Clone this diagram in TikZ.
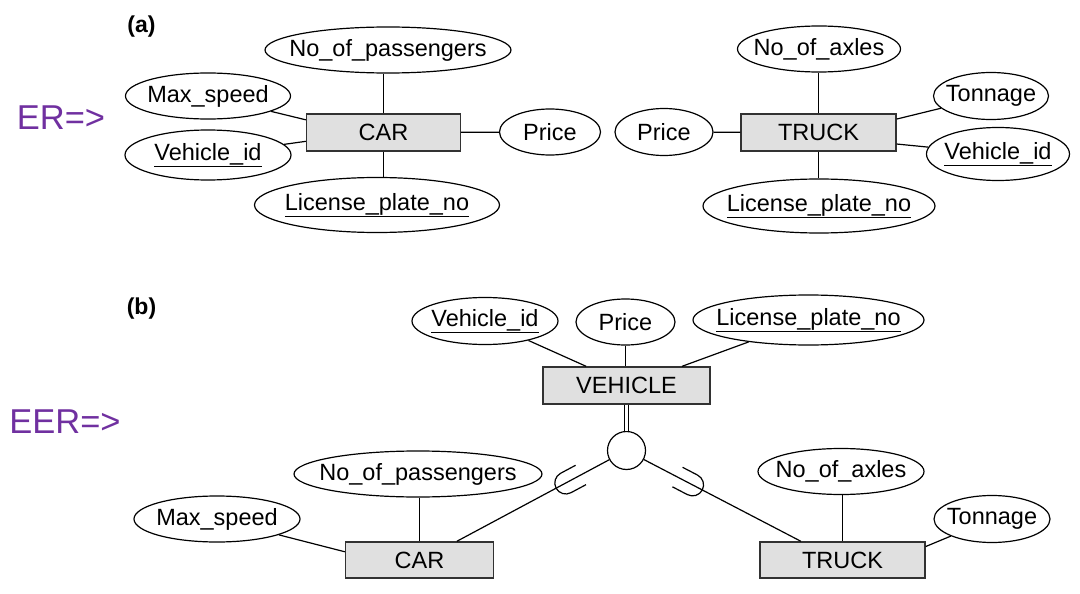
\documentclass[tikz,border=0pt]{standalone}
\usepackage{fontspec}
\setmainfont{Liberation Sans}
\usetikzlibrary{shapes.geometric,calc,decorations.markings}
\definecolor{erpurple}{RGB}{112,48,160}
\definecolor{entfill}{RGB}{224,224,224}
\definecolor{entdraw}{RGB}{50,50,50}
\newsavebox\ulbox
\newcommand\ulkey[1]{\sbox\ulbox{#1}\leavevmode\rlap{\usebox\ulbox}\rule[-6.5pt]{\wd\ulbox}{1.2pt}}
\newcommand\attrfont{\fontsize{23.5}{28}\selectfont}
\tikzset{
  conn/.style={line width=1.2pt},
  attr/.style={ellipse, draw, line width=1.2pt, inner xsep=-40pt, inner ysep=-12pt, font=\attrfont},
  ent/.style={rectangle, draw=entdraw, fill=entfill, line width=1.4pt, inner sep=0pt, font=\attrfont},
  partlbl/.style={font=\bfseries\fontsize{23}{27}\selectfont, inner sep=0pt},
  arrowlbl/.style={font=\fontsize{34.5}{40}\selectfont, text=erpurple, inner sep=0pt},
  subset/.style={postaction={decorate}, decoration={markings, mark=at position #1 with {\draw[line width=1.2pt] (-17pt,11pt) -- (0pt,11pt) arc[start angle=90,end angle=-90,radius=11pt] -- (-17pt,-11pt);}}}
}
\begin{document}
\begin{tikzpicture}[x=1pt,y=-1pt]
\useasboundingbox (0,0) rectangle (1080,594);
% labels
\node[partlbl] (lblA) at (141.5,26.5) {(a)};
\node[partlbl] (lblB) at (141.5,308.5) {(b)};
\node[arrowlbl] (er) at (61,117.5) {ER=>};
\node[arrowlbl] (eer) at (65,421.5) {EER=>};
% (a) CAR
\node[attr, minimum width=246pt, minimum height=46pt] (npA) at (388,50) {No\_of\_passengers};
\node[attr, minimum width=165pt, minimum height=46pt] (msA) at (208,96) {Max\_speed};
\node[attr, minimum width=166pt, minimum height=50pt] (viA) at (208,155) {\ulkey{Vehicle\_id}};
\node[ent, minimum width=154pt, minimum height=37pt] (carA) at (383.5,132.5) {CAR};
\node[attr, minimum width=245pt, minimum height=55pt] (lpA) at (377,205) {\ulkey{License\_plate\_no}};
\node[attr, minimum width=101pt, minimum height=46pt] (prA) at (550,132) {Price};
% (a) TRUCK
\node[attr, minimum width=98pt, minimum height=47pt] (prT) at (664,132) {Price};
\node[ent, minimum width=155pt, minimum height=37pt] (truckA) at (818.5,132.5) {TRUCK};
\node[attr, minimum width=163pt, minimum height=46pt] (naA) at (819,49) {No\_of\_axles};
\node[attr, minimum width=115pt, minimum height=47pt] (tnA) at (991,96) {Tonnage};
\node[attr, minimum width=143pt, minimum height=53pt] (viT) at (998,154) {\ulkey{Vehicle\_id}};
\node[attr, minimum width=232pt, minimum height=54pt] (lpT) at (819,206) {\ulkey{License\_plate\_no}};
% (a) connectors
\draw[conn] (carA.north) -- (carA.north |- npA.south);
\draw[conn] (carA.south) -- (carA.south |- lpA.north);
\draw[conn] (msA) -- ($(carA.north west)!0.17!(carA.south west)$);
\draw[conn] (viA) -- ($(carA.north west)!0.73!(carA.south west)$);
\draw[conn] (carA) -- (prA);
\draw[conn] (prT) -- (truckA);
\draw[conn] (truckA.north) -- (truckA.north |- naA.south);
\draw[conn] (truckA.south) -- (truckA.south |- lpT.north);
\draw[conn] ($(truckA.north east)!0.15!(truckA.south east)$) -- (tnA);
\draw[conn] ($(truckA.north east)!0.8!(truckA.south east)$) -- (viT);
% (b)
\node[attr, minimum width=146pt, minimum height=47pt] (viB) at (485,321) {\ulkey{Vehicle\_id}};
\node[attr, minimum width=99pt, minimum height=46pt] (prB) at (625.5,322) {Price};
\node[attr, minimum width=231pt, minimum height=50pt] (lpB) at (808.5,320) {\ulkey{License\_plate\_no}};
\node[ent, minimum width=167pt, minimum height=37pt] (vehB) at (626.5,385.5) {VEHICLE};
\node[circle, draw, line width=1.2pt, minimum size=38pt, inner sep=0pt] (dj) at (626.5,450.5) {};
\node[ent, minimum width=148pt, minimum height=36pt] (carB) at (419.5,560) {CAR};
\node[ent, minimum width=165pt, minimum height=36pt] (truckB) at (842.5,560) {TRUCK};
\node[attr, minimum width=248pt, minimum height=46pt] (npB) at (418,474) {No\_of\_passengers};
\node[attr, minimum width=166pt, minimum height=46pt] (msB) at (217,519) {Max\_speed};
\node[attr, minimum width=166pt, minimum height=46pt] (naB) at (841,471.5) {No\_of\_axles};
\node[attr, minimum width=116pt, minimum height=47pt] (tnB) at (992,519) {Tonnage};
% (b) connectors
\draw[conn] (viB) -- ($(vehB.north west)!0.26!(vehB.north east)$);
\draw[conn] (prB.south) -- (prB.south |- vehB.north);
\draw[conn] (lpB) -- ($(vehB.north west)!0.83!(vehB.north east)$);
\draw[conn, double, double distance=3pt] (vehB.south) -- (dj.north);
\draw[conn, subset=0.285] (dj) -- ($(carB.north west)!0.75!(carB.north east)$);
\draw[conn, subset=0.31] (dj) -- ($(truckB.north west)!0.25!(truckB.north east)$);
\draw[conn] (carB.north |- npB.south) -- (carB.north);
\draw[conn] (msB) -- ($(carB.north west)!0.28!(carB.south west)$);
\draw[conn] (truckB.north |- naB.south) -- (truckB.north);
\draw[conn] ($(truckB.north east)!0.14!(truckB.south east)$) -- (tnB);
\end{tikzpicture}
\end{document}
